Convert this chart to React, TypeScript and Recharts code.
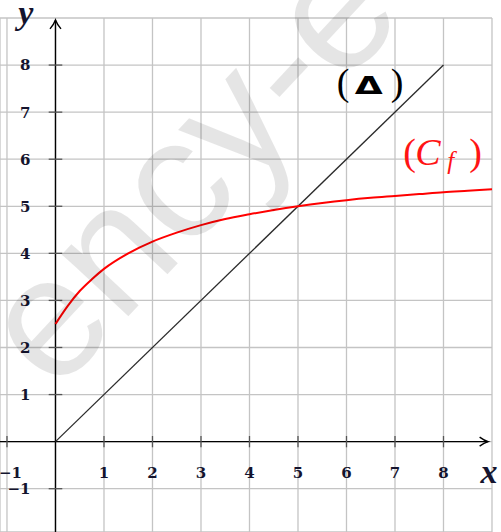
import {
  LineChart,
  Line,
  XAxis,
  YAxis,
  CartesianGrid,
  ReferenceLine,
  ReferenceDot,
} from "recharts";

// courbe (C_f)
const curveX = [0, 0.25, 0.5, 0.75, 1, 1.5, 2, 2.5, 3, 3.5, 4, 4.5, 5, 5.5, 6, 6.5, 7, 7.5, 8, 8.5, 9];
const curveY = [2.5, 2.88, 3.2, 3.45, 3.67, 4.0, 4.25, 4.44, 4.6, 4.73, 4.83, 4.92, 5.0, 5.07, 5.13, 5.18, 5.22, 5.26, 5.3, 5.33, 5.36];

// droite (Δ)
const deltaX = [0, 8];
const deltaY = [0, 8];

const gridX = [-1, 0, 1, 2, 3, 4, 5, 6, 7, 8];
const gridY = [-1, 0, 1, 2, 3, 4, 5, 6, 7, 8];
const tickX = [-1, 1, 2, 3, 4, 5, 6, 7, 8];
const tickY = [-1, 1, 2, 3, 4, 5, 6, 7, 8];

const xDomain = [-1.144, 9];
const yDomain = [-1.92, 9];

const curveData = curveX.map((x, i) => ({ x, y: curveY[i] }));
const deltaData = deltaX.map((x, i) => ({ x, y: deltaY[i] }));

const tickFont = "DejaVu Serif, serif";
const labelFont = "Liberation Serif, Times New Roman, DejaVu Serif, serif";
const tickColor = "#14142e";

const fmt = (v: number) => (v < 0 ? `\u2212${-v}` : `${v}`);

function AxisArrow(props: any) {
  const { x1, y1, x2, y2, dir } = props;
  const head =
    dir === "up"
      ? `M ${x2 - 5.5} ${y2 + 9} Q ${x2 - 1.5} ${y2 + 4} ${x2} ${y2} Q ${x2 + 1.5} ${y2 + 4} ${x2 + 5.5} ${y2 + 9}`
      : `M ${x2 - 8.5} ${y2 - 4.5} Q ${x2 - 4} ${y2 - 1.2} ${x2} ${y2} Q ${x2 - 4} ${y2 + 1.2} ${x2 - 8.5} ${y2 + 4.5}`;
  return (
    <g>
      <line x1={x1} y1={y1} x2={x2} y2={y2} stroke="#000" strokeWidth={1.4} />
      <path d={head} fill="none" stroke="#000" strokeWidth={1.4} />
    </g>
  );
}

function YTickMark(props: any) {
  const { x1, y1, x2, y2, value } = props;
  const cx = (x1 + x2) / 2;
  return (
    <g>
      <line x1={x1} y1={y1} x2={x2} y2={y2} stroke="#555" strokeWidth={1.3} />
      <text
        x={cx - 25}
        y={y1}
        dy="0.36em"
        textAnchor="end"
        fontFamily={tickFont}
        fontWeight="bold"
        fontSize={15}
        fill={tickColor}
      >
        {fmt(value)}
      </text>
    </g>
  );
}

function XTickMark(props: any) {
  const { x1, y1, x2, y2, value } = props;
  const cy = (y1 + y2) / 2;
  return (
    <g>
      <line x1={x1} y1={y1} x2={x2} y2={y2} stroke="#555" strokeWidth={1.3} />
      <text
        x={value < 0 ? x1 + 15 : x1}
        y={cy + 30.5}
        dy="0.36em"
        textAnchor={value < 0 ? "end" : "middle"}
        fontFamily={tickFont}
        fontWeight="bold"
        fontSize={15}
        fill={tickColor}
      >
        {fmt(value)}
      </text>
    </g>
  );
}

function AxisName(props: any) {
  const { cx, cy, text } = props;
  return (
    <text
      x={cx}
      y={cy}
      textAnchor="middle"
      fontFamily={labelFont}
      fontStyle="italic"
      fontWeight="bold"
      fontSize={34}
      fill={tickColor}
    >
      {text}
    </text>
  );
}

function DeltaLabel(props: any) {
  const { cx, cy } = props;
  return (
    <g fill="#000">
      <text x={cx} y={cy} fontSize={38} fontFamily={labelFont}>(</text>
      <text
        x={cx + 18}
        y={cy - 1}
        fontSize={24}
        fontFamily="DejaVu Sans, sans-serif"
        fontWeight="bold"
        textLength={28}
        lengthAdjust="spacingAndGlyphs"
      >
        Δ
      </text>
      <text x={cx + 54} y={cy} fontSize={38} fontFamily={labelFont}>)</text>
    </g>
  );
}

function CfLabel(props: any) {
  const { cx, cy } = props;
  return (
    <g fill="#ff1414">
      <text x={cx} y={cy} fontSize={38} fontFamily={labelFont}>(</text>
      <text x={cx + 12} y={cy} fontSize={38} fontStyle="italic" fontFamily={labelFont}>C</text>
      <text x={cx + 44} y={cy + 4} fontSize={25} fontStyle="italic" fontFamily={labelFont}>f</text>
      <text x={cx + 66} y={cy} fontSize={38} fontFamily={labelFont}>)</text>
    </g>
  );
}

export default function App() {
  return (
    <div style={{ position: "absolute", left: 0, top: 0, width: 501, height: 532 }}>
      <LineChart
        width={501}
        height={532}
        margin={{ top: 18, right: 9, left: 0, bottom: 0 }}
      >
        <CartesianGrid stroke="#c4c4c4" strokeWidth={1.3} />
        <XAxis
          dataKey="x"
          type="number"
          domain={xDomain}
          ticks={gridX}
          allowDataOverflow
          hide
        />
        <YAxis
          type="number"
          domain={yDomain}
          ticks={gridY}
          allowDataOverflow
          hide
        />

        <ReferenceLine
          segment={[{ x: xDomain[0], y: 0 }, { x: 8.92, y: 0 }]}
          shape={(p: any) => <AxisArrow {...p} dir="right" />}
        />
        <ReferenceLine
          segment={[{ x: 0, y: yDomain[0] }, { x: 0, y: 8.96 }]}
          shape={(p: any) => <AxisArrow {...p} dir="up" />}
        />

        {tickY.map((v) => (
          <ReferenceLine
            key={`ty${v}`}
            segment={[{ x: -0.14, y: v }, { x: 0.14, y: v }]}
            shape={(p: any) => <YTickMark {...p} value={v} />}
          />
        ))}
        {tickX.map((v) => (
          <ReferenceLine
            key={`tx${v}`}
            segment={[{ x: v, y: -0.12 }, { x: v, y: 0.12 }]}
            shape={(p: any) => <XTickMark {...p} value={v} />}
          />
        ))}

        <Line
          data={deltaData}
          dataKey="y"
          type="linear"
          stroke="#2a2a2a"
          strokeWidth={1.3}
          dot={false}
          isAnimationActive={false}
        />
        <Line
          data={curveData}
          dataKey="y"
          type="monotone"
          stroke="#ff0000"
          strokeWidth={2}
          dot={false}
          isAnimationActive={false}
        />

        <ReferenceDot x={-0.61} y={8.87} r={0} shape={(p: any) => <AxisName {...p} text="y" />} />
        <ReferenceDot x={8.94} y={-0.88} r={0} shape={(p: any) => <AxisName {...p} text="x" />} />
        <ReferenceDot x={5.8} y={7.37} r={0} shape={(p: any) => <DeltaLabel {...p} />} />
        <ReferenceDot x={7.17} y={5.88} r={0} shape={(p: any) => <CfLabel {...p} />} />
      </LineChart>

      <svg
        width={501}
        height={532}
        style={{ position: "absolute", left: 0, top: 0, pointerEvents: "none" }}
      >
        <text
          x={55}
          y={395}
          transform="rotate(-47 55 395)"
          fontFamily="Liberation Sans, Arial, sans-serif"
          fontSize={172}
          fill="#000"
          fillOpacity={0.1}
        >
          ency-education
        </text>
      </svg>
    </div>
  );
}
